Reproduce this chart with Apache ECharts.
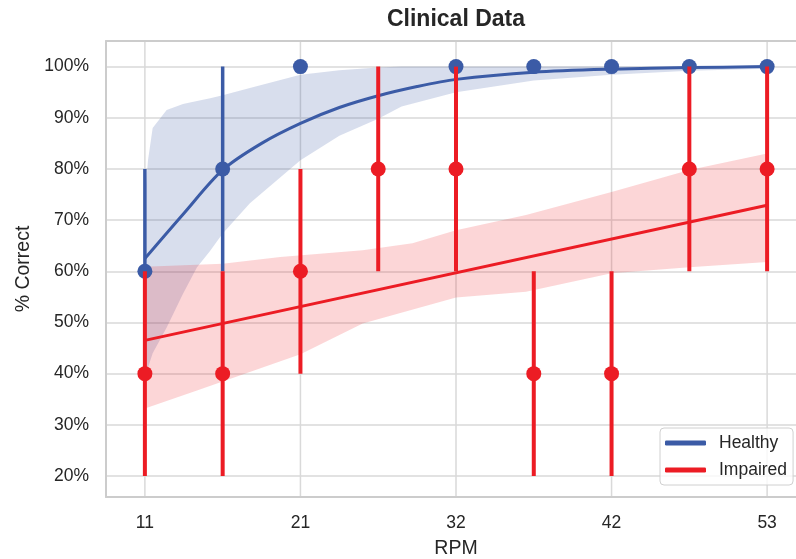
<!DOCTYPE html>
<html><head><meta charset="utf-8">
<script src="https://cdn.jsdelivr.net/npm/echarts@6/dist/echarts.min.js"></script>
<style>html,body{margin:0;padding:0;background:#fff;overflow:hidden}#c{width:796px;height:559px}</style>
</head><body><div id="c"></div>
<script>
// ---- data ----
const pointX = [0, 1, 2, 3, 4, 5, 6, 7, 8];            // RPM positions (evenly spaced)
const tickPositions = [0, 2, 4, 6, 8];
const tickLabels = ['11', '21', '32', '42', '53'];
const yTicks = [20, 30, 40, 50, 60, 70, 80, 90, 100];

const healthyMean = [60, 80, 100, null, 100, 100, 100, 100, 100];
const healthyLo   = [60, 60, 100, null, 100, 100, 100, 100, 100];
const healthyHi   = [80, 100, 100, null, 100, 100, 100, 100, 100];

const impairedMean = [40, 40, 60, 80, 80, 40, 40, 80, 80];
const impairedLo   = [20, 20, 40, 60, 60, 20, 20, 60, 60];
const impairedHi   = [60, 60, 80, 100, 100, 60, 60, 100, 100];

const healthyFitX = [0, 0.5, 1, 1.5, 2, 2.5, 3, 3.5, 4, 5, 6, 7, 8];
const healthyFitY = [62.5, 71.3, 79.8, 85, 88.9, 92, 94.3, 96.1, 97.5, 98.9, 99.5, 99.8, 100];
const healthyBandX  = [0, 0.04, 0.1, 0.28, 0.49, 0.67, 0.84, 1, 1.35, 2, 2.5, 3, 3.3, 4, 5, 6, 7, 8];
const healthyBandHi = [74, 81.7, 88, 91.5, 92.7, 93.3, 93.8, 94.4, 95.8, 98.4, 99.3, 99.8, 100, 100, 100, 100, 100, 100];
const healthyBandLo = [39.5, 41.2, 44, 49, 55.6, 60.8, 64, 67.4, 73.3, 81.7, 86.5, 89.8, 92.2, 95, 97.3, 98.4, 99.2, 99.6];

const impairedFitX = [0, 8];
const impairedFitY = [46.5, 72.9];
const impairedBandHiX = [0, 0.5, 1, 1.74, 2.8, 3.44, 4, 4.9, 6, 7, 8];
const impairedBandHi  = [60.9, 61.2, 61.5, 62.8, 64.1, 65.5, 68, 71, 75.5, 79.8, 83];
const impairedBandLoX = [0, 0.67, 2, 2.8, 4, 4.9, 6, 7, 8];
const impairedBandLo  = [33.2, 36.7, 43.8, 49.8, 54.9, 56, 59.6, 60.8, 61.8];

// ---- styling ----
const BLUE = '#3b5ba6';
const RED = '#ec1c24';
const FONT = '"Liberation Sans", Arial, sans-serif';
const SPINE = { show: true, onZero: false, lineStyle: { color: '#cccccc', width: 2 } };
const GRIDLINE = '#d9d9d9';

function zip(xs, ys) { return xs.map((x, i) => [x, ys[i]]); }

function bandSeries(xsHi, hi, xsLo, lo, fill, z) {
  return {
    type: 'custom', silent: true, z: z, data: [[0, 50]],
    renderItem: function (params, api) {
      const pts = [];
      xsHi.forEach((x, i) => pts.push(api.coord([x, hi[i]])));
      for (let i = xsLo.length - 1; i >= 0; i--) pts.push(api.coord([xsLo[i], lo[i]]));
      return { type: 'polygon', shape: { points: pts }, style: { fill: fill } };
    }
  };
}

// vertical grid lines at the labelled x ticks
const vGridSeries = {
  type: 'custom', silent: true, z: 0, data: tickPositions.map(p => [p, 50]),
  renderItem: function (params, api) {
    const a = api.coord([api.value(0), 105]);
    const b = api.coord([api.value(0), 15.9]);
    return { type: 'line', shape: { x1: a[0], y1: a[1], x2: b[0], y2: b[1] },
             style: { stroke: GRIDLINE, lineWidth: 1.5 } };
  }
};

function errSeries(lo, hi, color, width, z) {
  const data = [];
  pointX.forEach((x, i) => { if (lo[i] != null && hi[i] != null) data.push([x, lo[i], hi[i]]); });
  return {
    type: 'custom', silent: true, z: z, data: data,
    encode: { x: 0, y: [1, 2] },
    renderItem: function (params, api) {
      const a = api.coord([api.value(0), api.value(1)]);
      const b = api.coord([api.value(0), api.value(2)]);
      return { type: 'line', shape: { x1: a[0], y1: a[1], x2: b[0], y2: b[1] },
               style: { stroke: color, lineWidth: width } };
    }
  };
}

function pointSeries(mean, color, z) {
  const data = [];
  pointX.forEach((x, i) => { if (mean[i] != null) data.push([x, mean[i]]); });
  return { type: 'scatter', silent: true, z: z, symbolSize: 15, data: data,
           itemStyle: { color: color, opacity: 1 } };
}

const chart = echarts.init(document.getElementById('c'), null, { renderer: 'canvas' });
chart.setOption({
  animation: false,
  backgroundColor: '#ffffff',
  title: {
    text: 'Clinical Data', left: 456, top: 8, padding: 0, textAlign: 'center',
    textStyle: { fontFamily: FONT, fontSize: 23, fontWeight: 'bold', color: '#262626' }
  },
  grid: { left: 106, top: 41, width: 700, height: 456, outerBoundsMode: 'none', containLabel: false, show: false },
  xAxis: [{
    type: 'value', min: -0.5, max: 8.5, position: 'bottom',
    name: 'RPM', nameLocation: 'middle', nameGap: 42,
    nameTextStyle: { fontFamily: FONT, fontSize: 19.5, color: '#262626' },
    axisLine: SPINE, axisTick: { show: false, customValues: tickPositions },
    axisLabel: { customValues: tickPositions, margin: 17, fontFamily: FONT, fontSize: 17.5, color: '#262626',
                 formatter: v => tickLabels[tickPositions.indexOf(v)] },
    splitLine: { show: false }
  }, {
    type: 'value', min: -0.5, max: 8.5, position: 'top',
    axisLine: SPINE, axisTick: { show: false }, axisLabel: { show: false }, splitLine: { show: false }
  }],
  yAxis: {
    type: 'value', min: 15.9, max: 105, position: 'left',
    name: '% Correct', nameLocation: 'middle', nameGap: 71, nameRotate: 90,
    nameTextStyle: { fontFamily: FONT, fontSize: 19.5, color: '#262626' },
    axisLine: SPINE, axisTick: { show: false, customValues: yTicks },
    axisLabel: { customValues: yTicks, margin: 17, fontFamily: FONT, fontSize: 17.5, color: '#262626',
                 formatter: v => v + '%' },
    splitLine: { show: true, lineStyle: { color: GRIDLINE, width: 1.5 } }
  },
  legend: {
    left: 660, top: 428, orient: 'vertical', padding: [6, 6, 6, 5], itemGap: 9,
    itemWidth: 41, itemHeight: 5, icon: 'roundRect',
    borderColor: '#d0d0d0', borderWidth: 1, borderRadius: 4, backgroundColor: 'rgba(255,255,255,0.8)',
    textStyle: { fontFamily: FONT, fontSize: 17.5, color: '#262626', padding: [0, 0, 0, 8] },
    data: ['Healthy', 'Impaired']
  },
  series: [
    vGridSeries,
    bandSeries(healthyBandX, healthyBandHi, healthyBandX, healthyBandLo, 'rgba(59,91,166,0.2)', 1),
    bandSeries(impairedBandHiX, impairedBandHi, impairedBandLoX, impairedBandLo, 'rgba(236,28,36,0.18)', 2),
    { name: 'Healthy', type: 'line', z: 3, data: zip(healthyFitX, healthyFitY), smooth: 0.3,
      showSymbol: false, silent: true, lineStyle: { color: BLUE, width: 3 }, itemStyle: { color: BLUE } },
    errSeries(healthyLo, healthyHi, BLUE, 3.5, 4),
    pointSeries(healthyMean, BLUE, 5),
    { name: 'Impaired', type: 'line', z: 6, data: zip(impairedFitX, impairedFitY),
      showSymbol: false, silent: true, lineStyle: { color: RED, width: 3 }, itemStyle: { color: RED } },
    errSeries(impairedLo, impairedHi, RED, 4, 7),
    pointSeries(impairedMean, RED, 8)
  ]
});
</script></body></html>
